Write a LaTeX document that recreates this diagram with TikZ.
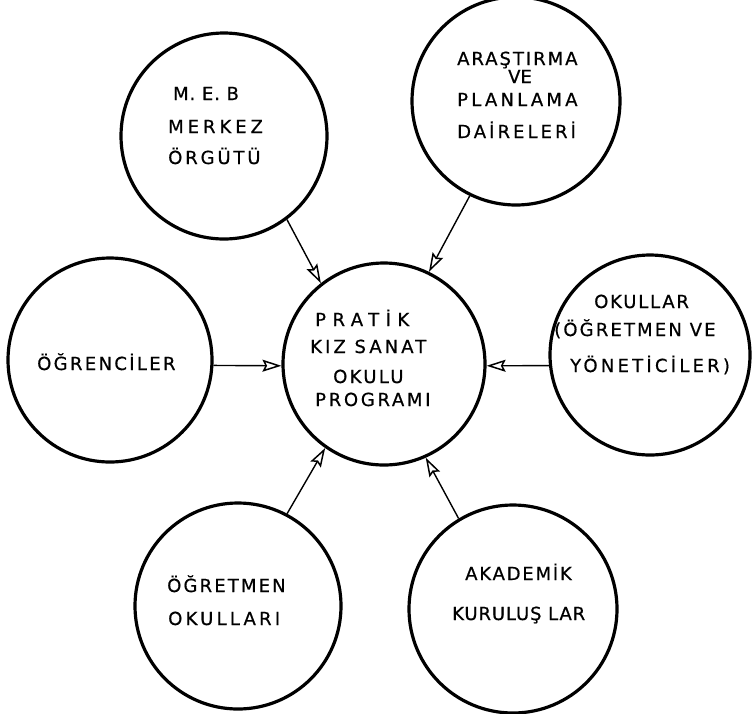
\documentclass[tikz,border=0pt]{standalone}
\usepackage{fontspec}
\usetikzlibrary{arrows.meta}
\newfontfamily\lab[FakeBold=0.6]{DejaVu Sans}
\newcommand{\lsp}[2]{{\addfontfeature{LetterSpace=#1}#2}}
\begin{document}
\begin{tikzpicture}[x=1pt,y=-1pt,
  ring/.style={circle, draw=black, line width=3.2pt, inner sep=0pt},
  conn/.style={line width=1.4pt, -{Stealth[open, length=19pt, width=12pt, inset=3pt, line width=1.5pt]}},
  lbl/.style={font=\lab\fontsize{18}{18}\selectfont, inner sep=0pt, anchor=base west}]
\useasboundingbox (0,0) rectangle (754,713);
\fill[white] (0,0) rectangle (754,713);

% circles
\node[ring, minimum size=206pt] (meb) at (224,136) {};
\node[ring, minimum size=208pt] (ara) at (516,101) {};
\node[ring, minimum size=204pt] (ogr) at (110,360) {};
\node[ring, minimum size=202pt] (ctr) at (384,364) {};
\node[ring, minimum size=200pt] (oku) at (650,355) {};
\node[ring, minimum size=206pt] (ogt) at (238,606) {};
\node[ring, minimum size=208pt] (aka) at (513,609) {};

% labels
\node[lbl] (meb1) at (173,100) {\lsp{5}{M. E. B}};
\node[lbl] (meb2) at (168,133) {\lsp{22}{MERKEZ}};
\node[lbl] (meb3) at (168,164) {\lsp{16}{ÖRGÜTÜ}};

\node[lbl] (ara1) at (457,65) {\lsp{11}{ARAŞTIRMA}};
\node[lbl, anchor=base] (ara2) at (520,83) {VE};
\node[lbl] (ara3) at (457,106) {\lsp{18}{PLANLAMA}};
\node[lbl] (ara4) at (457,138) {\lsp{17}{DAİRELERİ}};

\node[lbl] (ogr1) at (37,370) {\lsp{13}{ÖĞRENCİLER}};

\node[lbl] (ctr1) at (315,326) {\lsp{36}{PRATİK}};
\node[lbl] (ctr2) at (310,353) {\lsp{17}{KIZ SANAT}};
\node[lbl] (ctr3) at (333,383) {\lsp{13}{OKULU}};
\node[lbl] (ctr4) at (315,406) {\lsp{15}{PROGRAMI}};

\node[lbl] (oku1) at (594,308) {\lsp{10}{OKULLAR}};
\node[lbl] (oku2) at (554,336) {\lsp{12}{(ÖĞRETMEN VE}};
\node[lbl] (oku3) at (570,372) {\lsp{18}{YÖNETİCİLER)}};

\node[lbl] (ogt1) at (167,592) {\lsp{12}{ÖĞRETMEN}};
\node[lbl] (ogt2) at (168,625) {\lsp{18}{OKULLARI}};

\node[lbl] (aka1) at (465,580) {\lsp{10}{AKADEMİK}};
\node[lbl] (aka2) at (452,620) {\lsp{5}{KURULUŞ LAR}};

% connectors
\draw[conn] (meb.-53) -- (ctr.128);
\draw[conn] (ara.-116) -- (ctr.64);
\draw[conn] (ogr.-3) -- (ctr.181);
\draw[conn] (oku.186) -- (ctr.-1);
\draw[conn] (ogt.62) -- (ctr.-125);
\draw[conn] (aka.121) -- (ctr.-66);
\end{tikzpicture}
\end{document}
